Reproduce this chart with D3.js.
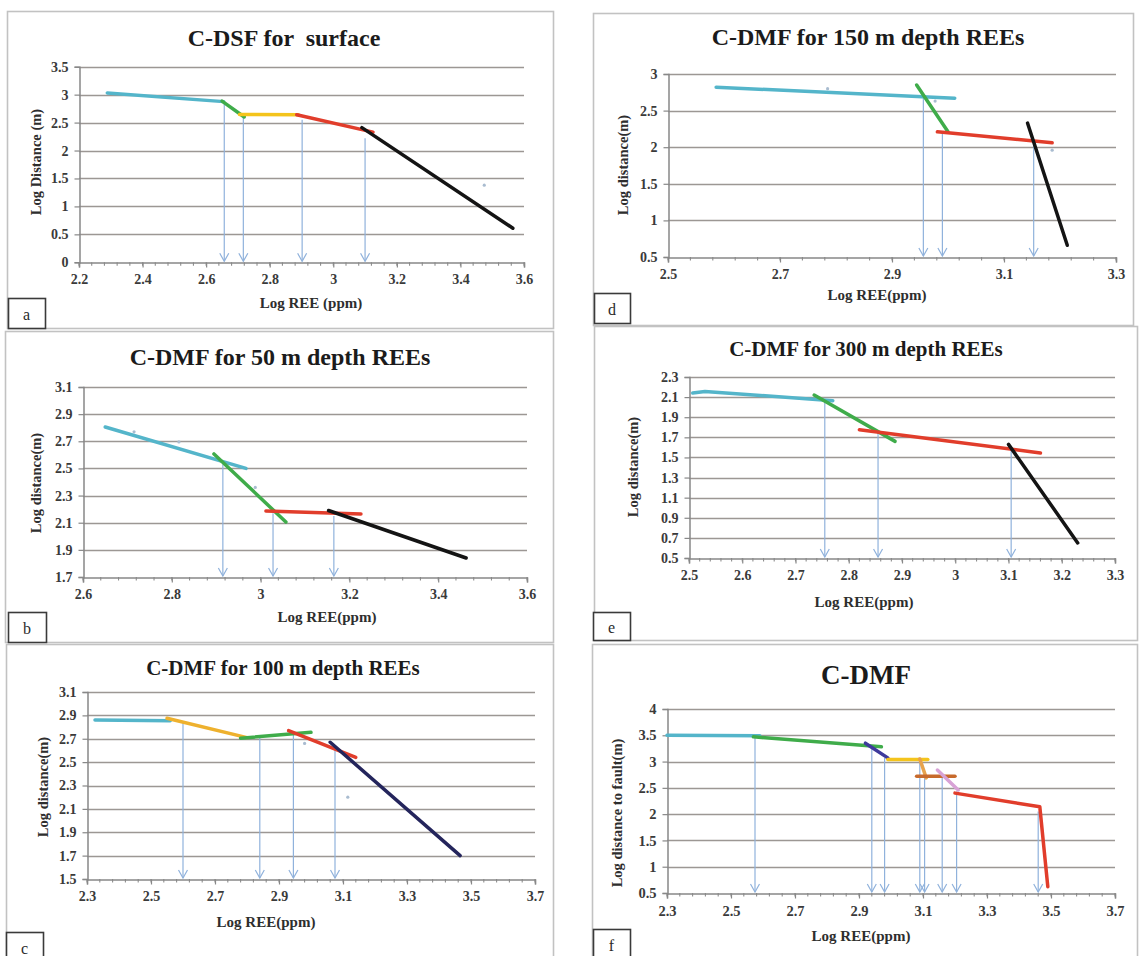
<!DOCTYPE html>
<html>
<head>
<meta charset="utf-8">
<script src="https://cdn.jsdelivr.net/npm/d3@7"></script>
<style>
  html, body { margin: 0; padding: 0; background: #fff; }
  svg { display: block; }
</style>
</head>
<body>
<svg id="fig" width="1142" height="956"></svg>
<script>
// ---------- Panel a : C-DSF, surface ----------
const aTitle = "C-DSF for  surface";
const aXLabel = "Log REE (ppm)";
const aYLabel = "Log Distance (m)";
const aXTicks = [2.2, 2.4, 2.6, 2.8, 3, 3.2, 3.4, 3.6];
const aYTicks = [0, 0.5, 1, 1.5, 2, 2.5, 3, 3.5];
const aSegments = [
  [[2.289, 3.03], [2.655, 2.875]],
  [[2.650, 2.885], [2.720, 2.600]],
  [[2.705, 2.645], [2.890, 2.640]],
  [[2.885, 2.640], [3.125, 2.330]],
  [[3.090, 2.410], [3.565, 0.610]]
];
const aBreaks = [[2.657, 2.86], [2.717, 2.60], [2.902, 2.55], [3.10, 2.22]];
const aPoints = [[3.475, 1.38]];

// ---------- Panel b : C-DMF, 50 m depth ----------
const bTitle = "C-DMF for 50 m depth REEs";
const bXLabel = "Log REE(ppm)";
const bYLabel = "Log distance(m)";
const bXTicks = [2.6, 2.8, 3, 3.2, 3.4, 3.6];
const bYTicks = [1.7, 1.9, 2.1, 2.3, 2.5, 2.7, 2.9, 3.1];
const bSegments = [
  [[2.650, 2.805], [2.967, 2.500]],
  [[2.895, 2.607], [3.057, 2.105]],
  [[3.012, 2.186], [3.226, 2.164]],
  [[3.153, 2.190], [3.463, 1.840]]
];
const bBreaks = [[2.915, 2.53], [3.028, 2.17], [3.165, 2.15]];
const bPoints = [[2.715, 2.77], [2.816, 2.695], [2.988, 2.36]];

// ---------- Panel c : C-DMF, 100 m depth ----------
const cTitle = "C-DMF for 100 m depth REEs";
const cXLabel = "Log REE(ppm)";
const cYLabel = "Log distance(m)";
const cXTicks = [2.3, 2.5, 2.7, 2.9, 3.1, 3.3, 3.5, 3.7];
const cYTicks = [1.5, 1.7, 1.9, 2.1, 2.3, 2.5, 2.7, 2.9, 3.1];
const cSegments = [
  [[2.325, 2.860], [2.560, 2.855]],
  [[2.550, 2.875], [2.800, 2.710]],
  [[2.780, 2.705], [3.000, 2.755]],
  [[2.930, 2.770], [3.140, 2.540]],
  [[3.060, 2.670], [3.466, 1.700]]
];
const cBreaks = [[2.60, 2.84], [2.84, 2.71], [2.945, 2.74], [3.075, 2.62]];
const cPoints = [[3.115, 2.20], [2.98, 2.66]];

// ---------- Panel d : C-DMF, 150 m depth ----------
const dTitle = "C-DMF for 150 m depth REEs";
const dXLabel = "Log REE(ppm)";
const dYLabel = "Log distance(m)";
const dXTicks = [2.5, 2.7, 2.9, 3.1, 3.3];
const dYTicks = [0.5, 1, 1.5, 2, 2.5, 3];
const dSegments = [
  [[2.586, 2.82], [3.012, 2.67]],
  [[2.944, 2.85], [3.000, 2.21]],
  [[2.981, 2.21], [3.186, 2.06]],
  [[3.142, 2.33], [3.213, 0.66]]
];
const dBreaks = [[2.956, 2.68], [2.99, 2.20], [3.153, 2.08]];
const dPoints = [[2.785, 2.80], [2.977, 2.63], [3.186, 1.96]];

// ---------- Panel e : C-DMF, 300 m depth ----------
const eTitle = "C-DMF for 300 m depth REEs";
const eXLabel = "Log REE(ppm)";
const eYLabel = "Log distance(m)";
const eXTicks = [2.5, 2.6, 2.7, 2.8, 2.9, 3, 3.1, 3.2, 3.3];
const eYTicks = [0.5, 0.7, 0.9, 1.1, 1.3, 1.5, 1.7, 1.9, 2.1, 2.3];
const eSegments = [
  [[2.507, 2.140], [2.530, 2.155], [2.770, 2.065]],
  [[2.735, 2.120], [2.887, 1.660]],
  [[2.820, 1.775], [3.160, 1.545]],
  [[3.100, 1.630], [3.230, 0.650]]
];
const eBreaks = [[2.755, 2.07], [2.855, 1.75], [3.105, 1.60]];
const ePoints = [];

// ---------- Panel f : C-DMF, all depths ----------
const fTitle = "C-DMF";
const fXLabel = "Log REE(ppm)";
const fYLabel = "Log distance to fault(m)";
const fXTicks = [2.3, 2.5, 2.7, 2.9, 3.1, 3.3, 3.5, 3.7];
const fYTicks = [0.5, 1, 1.5, 2, 2.5, 3, 3.5, 4];
const fSegments = [
  [[2.300, 3.500], [2.590, 3.490]],
  [[2.570, 3.470], [2.970, 3.280]],
  [[2.920, 3.350], [2.990, 3.070]],
  [[2.990, 3.040], [3.115, 3.040]],
  [[3.090, 3.050], [3.110, 2.690]],
  [[3.080, 2.720], [3.200, 2.720]],
  [[3.145, 2.840], [3.210, 2.460]],
  [[3.200, 2.400], [3.465, 2.140], [3.490, 0.620]]
];
const fBreaks = [[2.575, 3.48], [2.94, 3.30], [2.98, 3.07], [3.09, 3.00],
                 [3.105, 2.70], [3.16, 2.75], [3.205, 2.43], [3.46, 2.05]];
const fPoints = [];

// ---------- styling ----------
const C = {
  cyan: "#54b5ca", green: "#3fac4a", yellow: "#f4c41c", amber: "#eeb12e",
  red: "#e13d2b", black: "#141414", navy: "#24255c", indigo: "#3e3a9c",
  brown: "#c76a2c", orange: "#e7a24c", pink: "#d8a2d6"
};
const serif = '"Liberation Serif", "Times New Roman", serif';

const panels = [
  { tag: "a", title: aTitle, xLabel: aXLabel, yLabel: aYLabel, xTicks: aXTicks, yTicks: aYTicks,
    segs: aSegments, colors: [C.cyan, C.green, C.yellow, C.red, C.black], breaks: aBreaks, points: aPoints,
    box: [7, 11, 546, 317], plot: [79, 524, 66.7, 262.3], titlePos: [284, 38, 24],
    xtPos: [311, 303], ytPos: [36, 162], tagBox: [8, 298, 37, 30] },
  { tag: "b", title: bTitle, xLabel: bXLabel, yLabel: bYLabel, xTicks: bXTicks, yTicks: bYTicks,
    segs: bSegments, colors: [C.cyan, C.green, C.red, C.black], breaks: bBreaks, points: bPoints,
    box: [5, 331, 548, 311], plot: [83, 527, 387, 577], titlePos: [280, 357, 24],
    xtPos: [327, 617], ytPos: [36, 483], tagBox: [8, 612, 38, 30] },
  { tag: "c", title: cTitle, xLabel: cXLabel, yLabel: cYLabel, xTicks: cXTicks, yTicks: cYTicks,
    segs: cSegments, colors: [C.cyan, C.amber, C.green, C.red, C.navy], breaks: cBreaks, points: cPoints,
    box: [6, 644, 547, 330], plot: [87, 535, 692, 879], titlePos: [283, 668, 21],
    xtPos: [266, 922], ytPos: [43, 787], tagBox: [6, 932, 37, 30] },
  { tag: "d", title: dTitle, xLabel: dXLabel, yLabel: dYLabel, xTicks: dXTicks, yTicks: dYTicks,
    segs: dSegments, colors: [C.cyan, C.green, C.red, C.black], breaks: dBreaks, points: dPoints,
    box: [593, 13, 540, 312], plot: [668, 1116, 74, 257], titlePos: [868, 37, 24],
    xtPos: [877, 295], ytPos: [623, 165], tagBox: [594, 293, 36, 30] },
  { tag: "e", title: eTitle, xLabel: eXLabel, yLabel: eYLabel, xTicks: eXTicks, yTicks: eYTicks,
    segs: eSegments, colors: [C.cyan, C.green, C.red, C.black], breaks: eBreaks, points: ePoints,
    box: [594, 326, 543, 314], plot: [689, 1115, 377, 558], titlePos: [866, 349, 21],
    xtPos: [864, 602], ytPos: [633, 467], tagBox: [593, 612, 37, 28] },
  { tag: "f", title: fTitle, xLabel: fXLabel, yLabel: fYLabel, xTicks: fXTicks, yTicks: fYTicks,
    segs: fSegments, colors: [C.cyan, C.green, C.indigo, C.yellow, C.orange, C.brown, C.pink, C.red],
    breaks: fBreaks, points: fPoints,
    box: [592, 644, 545, 330], plot: [667, 1115, 709, 893], titlePos: [866, 675, 27],
    xtPos: [861, 936], ytPos: [617, 813], tagBox: [593, 929, 37, 30] }
];

const svg = d3.select("#fig");
const fmt = v => String(+v.toFixed(2));

function drawPanel(p) {
  const g = svg.append("g").attr("class", "panel-" + p.tag);
  const [bx, by, bw, bh] = p.box;
  g.append("rect").attr("x", bx + 0.5).attr("y", by + 0.5).attr("width", bw).attr("height", bh)
    .attr("fill", "#fff").attr("stroke", "#c2c2c2").attr("stroke-width", 1.6);

  const [pl, pr, pt, pb] = p.plot;
  const xDom = [p.xTicks[0], p.xTicks[p.xTicks.length - 1]];
  const yDom = [p.yTicks[0], p.yTicks[p.yTicks.length - 1]];
  const x = d3.scaleLinear().domain(xDom).range([pl, pr]);
  const y = d3.scaleLinear().domain(yDom).range([pb, pt]);

  // horizontal gridlines
  g.append("g").selectAll("line").data(p.yTicks.slice(1)).join("line")
    .attr("x1", pl).attr("x2", pr)
    .attr("y1", d => Math.round(y(d)) + 0.5).attr("y2", d => Math.round(y(d)) + 0.5)
    .attr("stroke", "#9c9794").attr("stroke-width", 1.5);

  // minor ticks along the category axis
  const step = (p.xTicks[1] - p.xTicks[0]) / 5;
  const minors = d3.range(xDom[0], xDom[1] + step / 2, step);
  g.append("g").selectAll("line").data(minors).join("line")
    .attr("x1", d => x(d)).attr("x2", d => x(d))
    .attr("y1", pb).attr("y2", pb + 3.5)
    .attr("stroke", "#8e8e8e").attr("stroke-width", 1.1);

  const xAxis = g.append("g").attr("transform", `translate(0,${Math.round(pb) + 0.5})`)
    .call(d3.axisBottom(x).tickValues(p.xTicks).tickFormat(fmt).tickSize(5).tickPadding(7));
  const yAxis = g.append("g").attr("transform", `translate(${Math.round(pl) + 0.5},0)`)
    .call(d3.axisLeft(y).tickValues(p.yTicks).tickFormat(fmt).tickSize(5).tickPadding(6));
  [xAxis, yAxis].forEach(ax => {
    ax.attr("font-family", serif).attr("font-size", p.tag === "f" ? 14.5 : 14);
    ax.selectAll(".domain").attr("stroke", "#888").attr("stroke-width", 1.5);
    ax.selectAll(".tick line").attr("stroke", "#888").attr("stroke-width", 1.2);
    ax.selectAll(".tick text").attr("fill", "#3a3a3a").attr("font-weight", "bold");
  });

  // break arrows dropped onto the x axis
  const ag = g.append("g").attr("stroke", "#90b2dc").attr("fill", "none").attr("stroke-width", 1.2);
  p.breaks.forEach(([bxv, top]) => {
    const X = x(bxv), Y0 = y(top), Y1 = pb - 1;
    ag.append("line").attr("x1", X).attr("x2", X).attr("y1", Y0).attr("y2", Y1);
    ag.append("path").attr("d", `M${X - 4.5},${Y1 - 8} L${X},${Y1} L${X + 4.5},${Y1 - 8}`);
  });

  // faint sample points
  g.append("g").selectAll("circle").data(p.points).join("circle")
    .attr("cx", d => x(d[0])).attr("cy", d => y(d[1])).attr("r", 1.6)
    .attr("fill", "#a9bcd0");

  // fitted segments
  const line = d3.line().x(d => x(d[0])).y(d => y(d[1]));
  g.append("g").selectAll("path").data(p.segs).join("path")
    .attr("d", line).attr("fill", "none")
    .attr("stroke", (d, i) => p.colors[i])
    .attr("stroke-width", 3.5).attr("stroke-linecap", "round").attr("stroke-linejoin", "round");

  // titles
  g.append("text").attr("x", p.titlePos[0]).attr("y", p.titlePos[1]).attr("dy", "0.35em")
    .attr("text-anchor", "middle").attr("font-family", serif).attr("font-weight", "bold")
    .attr("font-size", p.titlePos[2]).attr("fill", "#1b1b1b").style("white-space", "pre")
    .text(p.title);
  g.append("text").attr("x", p.xtPos[0]).attr("y", p.xtPos[1]).attr("dy", "0.35em")
    .attr("text-anchor", "middle").attr("font-family", serif).attr("font-weight", "bold")
    .attr("font-size", 15).attr("fill", "#2e2e2e").style("white-space", "pre")
    .text(p.xLabel);
  g.append("text").attr("transform", `translate(${p.ytPos[0]},${p.ytPos[1]}) rotate(-90)`)
    .attr("dy", "0.35em").attr("text-anchor", "middle").attr("font-family", serif)
    .attr("font-weight", "bold").attr("font-size", 14.5).attr("fill", "#2e2e2e")
    .text(p.yLabel);

  // panel letter
  const [tx, ty, tw, th] = p.tagBox;
  g.append("rect").attr("x", tx + 0.5).attr("y", ty + 0.5).attr("width", tw).attr("height", th)
    .attr("fill", "#fff").attr("stroke", "#3a3a3a").attr("stroke-width", 1.6);
  g.append("text").attr("x", tx + tw / 2).attr("y", ty + th / 2 + 1).attr("dy", "0.35em")
    .attr("text-anchor", "middle").attr("font-family", serif).attr("font-size", 16)
    .attr("fill", "#2a2a2a").text(p.tag);
}

panels.forEach(drawPanel);
</script>
</body>
</html>
